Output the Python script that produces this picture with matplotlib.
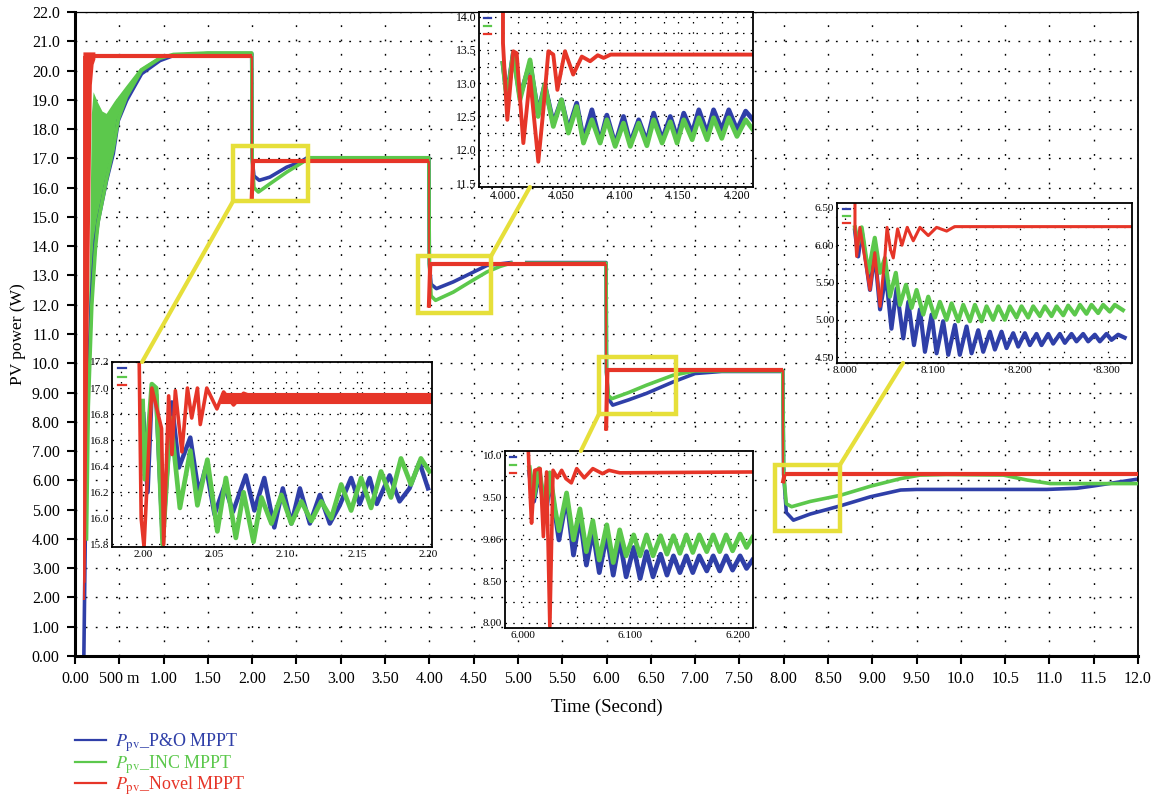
import numpy as np
import matplotlib
matplotlib.use("Agg")
import matplotlib.pyplot as plt
from matplotlib.patches import Rectangle, ConnectionPatch
from matplotlib.lines import Line2D
from matplotlib.collections import LineCollection

plt.rcParams['font.family'] = ['Liberation Serif', 'DejaVu Serif']
plt.rcParams['mathtext.fontset'] = 'stix'

BLUE = '#2f3fa8'
GREEN = '#5cc84c'
RED = '#e63528'
YELLOW = '#e6df3a'

# ---- main trace (Time in s, PV power in W) ----
po_t = [0.10, 0.12, 0.15, 0.19, 0.23, 0.263, 0.357, 0.432, 0.489, 0.583, 0.752, 0.959, 1.11, 1.5, 1.995,
        2.0, 2.02, 2.08, 2.2, 2.39, 2.54, 2.62, 3.995,
        4.0, 4.02, 4.08, 4.27, 4.46, 4.65, 4.92, np.nan, 5.10, 5.995,
        6.0, 6.02, 6.07, 6.25, 6.45, 6.75, 7.0, 7.3, 7.99,
        8.0, 8.03, 8.11, 8.3, 8.64, 8.98, 9.32, 9.5, 10.97, 11.31, 11.5, 11.97, 12.0]
po_p = [0.0, 5.0, 9.5, 12.5, 14.2, 14.88, 16.25, 17.16, 18.29, 18.98, 19.89, 20.34, 20.51, 20.58, 20.58,
        17.0, 16.4, 16.25, 16.36, 16.7, 16.87, 17.02, 17.02,
        13.4, 12.7, 12.55, 12.78, 13.06, 13.34, 13.44, np.nan, 13.44, 13.44,
        9.7, 8.8, 8.57, 8.75, 8.97, 9.36, 9.65, 9.72, 9.72,
        6.2, 4.9, 4.64, 4.85, 5.13, 5.44, 5.67, 5.69, 5.69, 5.73, 5.81, 6.03, 6.04]

inc_t = [0.13, 0.15, 0.19, 0.23, 0.26, 0.357, 0.43, 0.49, 0.58, 0.75, 0.96, 1.11, 1.5, 1.995,
         2.0, 2.02, 2.07, 2.2, 2.39, 2.54, 2.65, 3.995,
         4.0, 4.02, 4.07, 4.27, 4.46, 4.65, 4.8, 4.92, np.nan, 5.10, 5.995,
         6.0, 6.02, 6.06, 6.25, 6.45, 6.75, 7.0, 7.99,
         8.0, 8.03, 8.09, 8.3, 8.64, 8.98, 9.32, 9.54, 9.84, 10.48, 10.75, 11.01, 11.5, 12.0]
inc_p = [4.0, 8.5, 12.0, 13.9, 14.8, 16.3, 17.3, 18.35, 19.1, 20.0, 20.42, 20.55, 20.6, 20.6,
         17.0, 16.0, 15.85, 16.13, 16.53, 16.81, 17.02, 17.02,
         13.4, 12.3, 12.15, 12.43, 12.78, 13.12, 13.31, 13.42, np.nan, 13.42, 13.42,
         9.7, 8.9, 8.79, 9.0, 9.25, 9.59, 9.74, 9.74,
         6.2, 5.2, 5.1, 5.28, 5.49, 5.8, 6.06, 6.18, 6.2, 6.18, 6.01, 5.89, 5.89, 5.89]
# upper edge of the INC start-up oscillation band
inc_band_t = [0.13, 0.16, 0.175, 0.19, 0.21, 0.26, 0.31, 0.357, 0.45, 0.583, 0.734, 0.959]
inc_band_p = [7.0, 12.0, 15.0, 18.5, 19.26, 18.9, 18.6, 18.52, 18.95, 19.48, 20.07, 20.5]

novel_t = [0.10, 0.10, 0.16, 1.995, 1.995, 2.01, 3.995, 3.995, 4.01, 5.995, 5.995, 6.01,
           7.99, 7.99, 8.01, 12.0]
novel_p = [1.9, 20.5, 20.5, 20.5, 15.6, 16.9, 16.9, 11.9, 13.38, 13.38, 7.7, 9.76,
           9.76, 5.9, 6.21, 6.21]
# thick start-up band of the novel tracker
novel_band_t = [0.095, 0.23, 0.23, 0.21, 0.19, 0.17, 0.14, 0.12, 0.095]
novel_band_p = [20.62, 20.62, 20.38, 20.2, 19.5, 15.0, 8.0, 2.5, 2.5]

# ---- inset 1 : 2.00 - 2.20 s ----
z1_po_t = [2.0, 2.003, 2.006, 2.009, 2.0136, 2.020, 2.025, 2.033, 2.039, 2.044, 2.050, 2.057, 2.063, 2.072,
           2.078, 2.085, 2.092, 2.098, 2.104, 2.110, 2.117, 2.124, 2.131, 2.138, 2.146, 2.152, 2.159,
           2.164, 2.173, 2.180, 2.187, 2.194, 2.200]
z1_po_p = [16.8, 16.2, 17.0, 16.95, 15.85, 16.89, 16.39, 16.62, 16.19, 16.4, 16.03, 16.25, 16.05, 16.33,
           16.06, 16.31, 15.93, 16.23, 15.96, 16.23, 15.96, 16.18, 15.96, 16.1, 16.31, 16.11, 16.31,
           16.11, 16.33, 16.13, 16.23, 16.43, 16.23]
z1_inc_t = [1.9995, 2.001, 2.006, 2.009, 2.0136, 2.0192, 2.0257, 2.033, 2.038, 2.045, 2.052, 2.058, 2.065,
            2.0704, 2.0774, 2.083, 2.090, 2.097, 2.104, 2.111, 2.118, 2.125, 2.132, 2.139, 2.146, 2.153,
            2.160, 2.167, 2.174, 2.181, 2.188, 2.195, 2.201]
z1_inc_p = [16.9, 16.3, 17.03, 17.0, 15.8, 16.77, 16.08, 16.52, 16.1, 16.45, 15.9, 16.31, 15.85,
            16.2, 15.82, 16.16, 15.96, 16.18, 15.96, 16.13, 15.98, 16.13, 16.0, 16.26, 16.06, 16.31,
            16.08, 16.36, 16.16, 16.46, 16.26, 16.46, 16.36]
z1_nov_t = [1.997, 1.9985, 2.0005, 2.0037, 2.006, 2.0128, 2.0143, 2.0178, 2.0201, 2.0225, 2.0271, 2.031,
            2.034, 2.038, 2.040, 2.0446, 2.0517, 2.0564, 2.0634, 2.0704, 2.08, 2.2025]
z1_nov_p = [17.3, 16.0, 15.78, 16.51, 17.0, 16.69, 15.8, 16.94, 16.49, 16.98, 16.51, 17.0,
            16.77, 17.0, 16.72, 17.0, 16.84, 16.97, 16.87, 16.96, 16.92, 16.92]
z1_nov_band_t = [2.058, 2.2025]
z1_nov_band_p = [16.92, 16.92]

# ---- inset 2 : 4.00 - 4.20 s ----
z2_po_t = [4.000, 4.0034, 4.0088, 4.0145, 4.0231, 4.030, 4.0357, 4.043, 4.050, 4.0559, 4.063, 4.0688,
           4.076, 4.083, 4.0888, 4.0959, 4.103, 4.1088, 4.116, 4.123, 4.1288, 4.136, 4.143, 4.1488,
           4.1545, 4.1617, 4.1674, 4.1745, 4.180, 4.187, 4.193, 4.200, 4.2074, 4.2137]
z2_po_p = [13.3, 12.8, 13.45, 12.8, 13.3, 12.55, 12.98, 12.4, 12.75, 12.3, 12.7, 12.15,
           12.6, 12.12, 12.52, 12.08, 12.5, 12.1, 12.45, 12.12, 12.55, 12.15, 12.5, 12.18,
           12.55, 12.25, 12.6, 12.25, 12.6, 12.3, 12.6, 12.3, 12.58, 12.45]
z2_inc_t = z2_po_t
z2_inc_p = [13.3, 12.75, 13.45, 12.75, 13.35, 12.5, 12.98, 12.35, 12.75, 12.25, 12.65, 12.1,
            12.45, 12.1, 12.45, 12.05, 12.4, 12.05, 12.4, 12.06, 12.45, 12.1, 12.42, 12.1,
            12.45, 12.15, 12.48, 12.15, 12.48, 12.17, 12.48, 12.2, 12.45, 12.3]
z2_nov_t = [4.000, 4.000, 4.0037, 4.0088, 4.0117, 4.0174, 4.0231, 4.0302, 4.0345, 4.0388, 4.043, 4.0465,
            4.053, 4.060, 4.0674, 4.0745, 4.081, 4.086, 4.092, 4.2137]
z2_nov_p = [14.1, 13.6, 12.45, 13.48, 13.45, 12.10, 13.1, 11.82, 12.6, 13.48, 13.43, 12.9,
            13.48, 13.13, 13.4, 13.33, 13.42, 13.38, 13.43, 13.43]

# ---- inset 3 : 6.00 - 6.20 s ----
z3_t = [6.006, 6.010, 6.015, 6.021, 6.025, 6.030, 6.0335, 6.0406, 6.047, 6.053, 6.059, 6.065, 6.071,
        6.078, 6.084, 6.090, 6.096, 6.103, 6.109, 6.115, 6.121, 6.128, 6.134, 6.140, 6.146, 6.152,
        6.158, 6.164, 6.171, 6.177, 6.183, 6.189, 6.195, 6.202, 6.208, 6.2135]
z3_po_p = [9.8, 9.45, 9.8, 9.25, 9.75, 9.3, 8.99, 9.5, 8.81, 9.27, 8.69, 9.1, 8.6,
           9.05, 8.57, 9.0, 8.55, 8.9, 8.53, 8.85, 8.55, 8.82, 8.57, 8.8, 8.6, 8.8,
           8.6, 8.8, 8.62, 8.8, 8.62, 8.8, 8.63, 8.8, 8.65, 8.75]
z3_inc_p = [9.85, 9.5, 9.84, 9.3, 9.79, 9.35, 9.1, 9.55, 8.99, 9.36, 8.85, 9.22, 8.75,
            9.17, 8.72, 9.11, 8.8, 9.05, 8.8, 9.05, 8.8, 9.04, 8.82, 9.04, 8.83, 9.05,
            8.84, 9.05, 8.85, 9.05, 8.85, 9.05, 8.86, 9.06, 8.9, 9.02]
z3_nov_t = [6.005, 6.0065, 6.008, 6.011, 6.016, 6.019, 6.022, 6.025, 6.028, 6.032, 6.036, 6.040,
            6.045, 6.050, 6.057, 6.065, 6.074, 6.080, 6.090, 6.214]
z3_nov_p = [10.05, 9.58, 9.19, 9.82, 9.84, 9.03, 9.8, 7.96, 9.82, 9.73, 9.82, 9.72,
            9.67, 9.84, 9.73, 9.84, 9.78, 9.82, 9.79, 9.8]

# ---- inset 4 : 8.00 - 8.30 s ----
z4_po_t = [8.0114, 8.015, 8.019, 8.0285, 8.034, 8.040, 8.0467, 8.053, 8.0589, 8.0665, 8.0722, 8.0787,
           8.0855, 8.0912, 8.0988, 8.1045, 8.112, 8.1178, 8.1254, 8.131, 8.1387, 8.1444, 8.152, 8.1577,
           8.1653, 8.171, 8.1786, 8.1843, 8.1919, 8.1976, 8.2052, 8.2109, 8.2185, 8.2242, 8.2318,
           8.2375, 8.2451, 8.2508, 8.2584, 8.2641, 8.2717, 8.2774, 8.285, 8.2907, 8.2983, 8.304,
           8.3116, 8.319]
z4_po_p = [6.2, 5.85, 6.2, 5.4, 5.9, 5.14, 5.61, 4.88, 5.42, 4.75, 5.24, 4.66,
           5.14, 4.57, 5.07, 4.55, 4.98, 4.53, 4.93, 4.53, 4.91, 4.55, 4.86, 4.57,
           4.84, 4.6, 4.84, 4.62, 4.82, 4.64, 4.82, 4.66, 4.81, 4.66, 4.81,
           4.68, 4.81, 4.69, 4.81, 4.71, 4.81, 4.71, 4.8, 4.71, 4.81, 4.73,
           4.8, 4.76]
z4_inc_t = [8.0114, 8.015, 8.019, 8.0266, 8.034, 8.040, 8.0456, 8.0513, 8.058, 8.0627, 8.0696, 8.076,
            8.0817, 8.0893, 8.095, 8.1026, 8.1083, 8.1159, 8.1216, 8.1292, 8.1349, 8.1425, 8.1482,
            8.1558, 8.1615, 8.169, 8.1748, 8.1824, 8.188, 8.1957, 8.2014, 8.209, 8.2147, 8.2223,
            8.228, 8.2356, 8.2413, 8.249, 8.2546, 8.2622, 8.268, 8.2755, 8.2812, 8.2888, 8.2945,
            8.3021, 8.3078, 8.317]
z4_inc_p = [6.24, 6.02, 6.24, 5.63, 6.1, 5.63, 5.83, 5.31, 5.63, 5.2, 5.47, 5.16,
            5.4, 5.07, 5.31, 5.03, 5.24, 5.0, 5.22, 4.98, 5.2, 4.98, 5.2,
            4.98, 5.18, 5.0, 5.18, 5.0, 5.18, 5.03, 5.18, 5.03, 5.18, 5.05,
            5.18, 5.05, 5.18, 5.06, 5.19, 5.07, 5.2, 5.08, 5.2, 5.09, 5.2,
            5.11, 5.2, 5.13]
z4_nov_t = [8.0114, 8.0114, 8.0133, 8.017, 8.0285, 8.034, 8.040, 8.0456, 8.048, 8.052, 8.0551, 8.060,
            8.065, 8.071, 8.0779, 8.0855, 8.095, 8.1045, 8.116, 8.125, 8.3274]
z4_nov_p = [6.6, 6.25, 5.85, 6.24, 5.4, 5.9, 5.18, 5.85, 6.24, 5.94, 5.83, 6.22,
            6.0, 6.24, 6.06, 6.24, 6.13, 6.24, 6.19, 6.25, 6.25]

# zoom boxes on the main axes: (t0, t1, p0, p1)
zoom_boxes = [(1.783, 2.63, 15.53, 17.41), (3.87, 4.695, 11.71, 13.65),
              (5.914, 6.783, 8.26, 10.2), (7.90, 8.634, 4.27, 6.52)]

x_ticks = [0.0, 0.5, 1.0, 1.5, 2.0, 2.5, 3.0, 3.5, 4.0, 4.5, 5.0, 5.5, 6.0, 6.5, 7.0, 7.5, 8.0,
           8.5, 9.0, 9.5, 10.0, 10.5, 11.0, 11.5, 12.0]
x_tick_labels = ['0.00', '500 m', '1.00', '1.50', '2.00', '2.50', '3.00', '3.50', '4.00', '4.50',
                 '5.00', '5.50', '6.00', '6.50', '7.00', '7.50', '8.00', '8.50', '9.00', '9.50',
                 '10.0', '10.5', '11.0', '11.5', '12.0']
y_ticks = list(range(0, 23))
y_tick_labels = ['0.00', '1.00', '2.00', '3.00', '4.00', '5.00', '6.00', '7.00', '8.00', '9.00',
                 '10.0', '11.0', '12.0', '13.0', '14.0', '15.0', '16.0', '17.0', '18.0', '19.0',
                 '20.0', '21.0', '22.0']

W, H = 1153, 797
fig = plt.figure(figsize=(W / 100, H / 100), dpi=100)


def px_axes(x0, y0, x1, y1):
    return fig.add_axes([x0 / W, 1 - y1 / H, (x1 - x0) / W, (y1 - y0) / H])


ax = px_axes(75, 12, 1138, 656)
ax.fill(inc_band_t + inc_t[:11][::-1], inc_band_p + inc_p[:11][::-1], color=GREEN, lw=0, zorder=2)
ax.plot(po_t, po_p, color=BLUE, lw=2.6, zorder=2)
ax.plot(inc_t, inc_p, color=GREEN, lw=2.6, zorder=3)
ax.fill(novel_band_t, novel_band_p, color=RED, lw=0, zorder=4)
# the step drops of the novel trace are drawn thinner than its plateaus
pts = np.column_stack([novel_t, novel_p])
segs = np.stack([pts[:-1], pts[1:]], axis=1)
widths = [1.3 if a[0] == b[0] else 3.0 for a, b in segs]
ax.add_collection(LineCollection(segs, colors=RED, linewidths=widths, zorder=4, capstyle='butt'))

ax.set_xlim(0, 12)
ax.set_ylim(0, 22)
ax.set_xticks(x_ticks)
ax.set_xticklabels(x_tick_labels)
ax.set_yticks(y_ticks)
ax.set_yticklabels(y_tick_labels)
ax.tick_params(direction='out', length=6, width=1.5, labelsize=11.5, pad=5)
ax.grid(True, axis='x', color='black', linestyle=(0, (1.3, 9)), lw=1.0)
ax.grid(True, axis='y', color='black', linestyle=(0, (1.3, 6)), lw=1.0)
for side, w in [('left', 2.2), ('bottom', 2.2), ('top', 0.9), ('right', 1.3)]:
    ax.spines[side].set_linewidth(w)
ax.set_xlabel('Time (Second)', fontsize=13.5, labelpad=8)
ax.set_ylabel('PV power (W)', fontsize=12.5, labelpad=4)

for t0, t1, p0, p1 in zoom_boxes:
    ax.add_patch(Rectangle((t0, p0), t1 - t0, p1 - p0, fill=False, ec=YELLOW, lw=3.2, zorder=6))


def inset(box, xlim, ylim, xt, xtl, yt, ytl, xgrid, ygrid, fs=8):
    a = px_axes(*box)
    a.set_facecolor('white')
    a.set_xlim(*xlim)
    a.set_ylim(*ylim)
    a.set_xticks(xt)
    a.set_xticklabels(xtl)
    a.set_yticks(yt)
    a.set_yticklabels(ytl)
    a.set_xticks(xgrid, minor=True)
    a.set_yticks(ygrid, minor=True)
    a.tick_params(which='both', length=0, labelsize=fs, pad=2)
    a.grid(True, which='both', axis='x', color='black', linestyle=(0, (1.2, 7)), lw=0.9)
    a.grid(True, which='both', axis='y', color='black', linestyle=(0, (1.2, 5)), lw=0.9)
    for s in a.spines.values():
        s.set_linewidth(1.3)
    for i, c in enumerate([BLUE, GREEN, RED]):
        a.plot([0.02, 0.045], [0.965 - i * 0.045] * 2, color=c, lw=1.6, transform=a.transAxes,
               clip_on=False)
    return a


a1 = inset((112, 362, 432, 547), (1.978, 2.2028), (15.78, 17.2),
           [2.00, 2.05, 2.10, 2.15, 2.20], ['2.00', '2.05', '2.10', '2.15', '2.20'],
           [15.8, 16.0, 16.2, 16.4, 16.6, 16.8, 17.0, 17.2],
           ['15.8', '16.0', '16.2', '16.4', '16.8', '16.8', '17.0', '17.2'],
           np.arange(1.9846, 2.21, 0.01538), np.arange(15.8, 17.21, 0.2))
a1.plot(z1_po_t, z1_po_p, color=BLUE, lw=3.2)
a1.plot(z1_inc_t, z1_inc_p, color=GREEN, lw=3.4)
a1.plot(z1_nov_t, z1_nov_p, color=RED, lw=2.6)
a1.plot(z1_nov_band_t, z1_nov_band_p, color=RED, lw=8)

a2 = inset((479, 12, 753, 187), (3.9795, 4.2137), (11.44, 14.07),
           [4.0, 4.05, 4.1, 4.15, 4.2], ['4.000', '4.050', '4.100', '4.150', '4.200'],
           [11.5, 12.0, 12.5, 13.0, 13.5, 14.0], ['11.5', '12.0', '12.5', '13.0', '13.5', '14.0'],
           np.arange(3.9875, 4.21, 0.025), np.arange(11.5, 14.01, 0.25), fs=8.5)
a2.plot(z2_po_t, z2_po_p, color=BLUE, lw=3.4)
a2.plot(z2_inc_t, z2_inc_p, color=GREEN, lw=3.4)
a2.plot(z2_nov_t, z2_nov_p, color=RED, lw=2.8)

a3 = inset((505, 451, 753, 628), (5.9833, 6.214), (7.94, 10.05),
           [6.0, 6.1, 6.2], ['6.000', '6.100', '6.200'],
           [8.0, 8.5, 9.0, 9.5, 10.0], ['8.00', '8.50', '9.06', '9.50', '10.0'],
           np.arange(6.0, 6.21, 0.025), np.arange(8.0, 10.01, 0.25))
a3.plot(z3_t, z3_po_p, color=BLUE, lw=3.4)
a3.plot(z3_t, z3_inc_p, color=GREEN, lw=3.4)
a3.plot(z3_nov_t, z3_nov_p, color=RED, lw=2.6)

a4 = inset((837, 203, 1132, 363), (7.9909, 8.3274), (4.42, 6.567),
           [8.0, 8.1, 8.2, 8.3], ['8.000', '8.100', '8.200', '8.300'],
           [4.5, 5.0, 5.5, 6.0, 6.5], ['4.50', '5.00', '5.50', '6.00', '6.50'],
           np.arange(8.0, 8.33, 0.05), np.arange(4.5, 6.51, 0.25))
a4.plot(z4_po_t, z4_po_p, color=BLUE, lw=3.0)
a4.plot(z4_inc_t, z4_inc_p, color=GREEN, lw=3.0)
a4.plot(z4_nov_t, z4_nov_p, color=RED, lw=2.2)

# connectors from zoom boxes to insets
links = [(a1, 0, (0.094, 1.0)), (a2, 1, (0.186, 0.0)), (a3, 2, (0.306, 1.0)), (a4, 3, (0.224, 0.0))]
for a, k, frac in links:
    t0, t1, p0, p1 = zoom_boxes[k]
    corner = (t0, p0) if frac[1] == 1.0 else (t1, p1)
    con = ConnectionPatch(xyA=corner, coordsA=ax.transData, xyB=frac, coordsB=a.transAxes,
                          color=YELLOW, lw=3.0)
    fig.add_artist(con)

handles = [Line2D([], [], color=c, lw=1.6) for c in (BLUE, GREEN, RED)]
labels = [r'$P_{\rm pv}$_P&O MPPT', r'$P_{\rm pv}$_INC MPPT', r'$P_{\rm pv}$_Novel MPPT']
leg = fig.legend(handles, labels, loc='upper left', bbox_to_anchor=(68 / W, 1 - 724 / H),
                 frameon=False, fontsize=13, handlelength=1.7, handletextpad=0.5,
                 labelspacing=-0.05, borderaxespad=0)
for txt, c in zip(leg.get_texts(), (BLUE, GREEN, RED)):
    txt.set_color(c)

fig.savefig('out.png', dpi=100)
